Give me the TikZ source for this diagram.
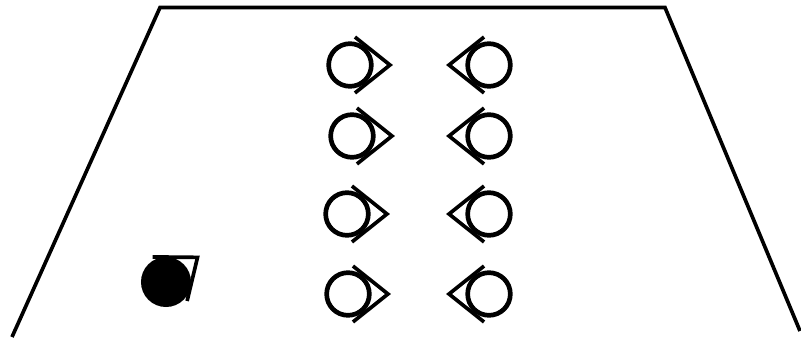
\documentclass[tikz,border=0pt]{standalone}
\usepackage{tikz}
\usetikzlibrary{positioning,calc}

\begin{document}
\begin{tikzpicture}[x=0.03cm, y=-0.03cm, wall/.style = {draw, line width=0.11cm, line join=miter}, head/.style = {circle, draw, line width=0.14cm, minimum size=1.28cm, inner sep=0pt}, cone/.style = {draw, line width=0.11cm}, pics/viewer/.style = {code={
    \node[head, #1] (-head) at (0,0) {};
    \draw[cone] (-80:28.4) -- (40,0) -- (80:28.4);
}}, pics/viewer/.default={}]

\useasboundingbox (0,0) rectangle (801,340);

% room outline
\draw[wall] (12,337) -- (160,7.5) -- (665,7.5) -- (800,331);

% left row, looking right
\pic (l1) at (350,65) {viewer};
\pic (l2) at (352,136) {viewer};
\pic (l3) at (347,214) {viewer};
\pic (l4) at (348,294) {viewer};

% right row, looking left
\pic[rotate=180] (r1) at (489,65) {viewer};
\pic[rotate=180] (r2) at (489,136) {viewer};
\pic[rotate=180] (r3) at (489,214) {viewer};
\pic[rotate=180] (r4) at (489,294) {viewer};

% the one in front
\pic[rotate=38] (t) at (166,282) {viewer={fill=black, minimum size=1.36cm}};
%\node (front) [right=2cm of t-head] {};
\end{tikzpicture}
\end{document}
